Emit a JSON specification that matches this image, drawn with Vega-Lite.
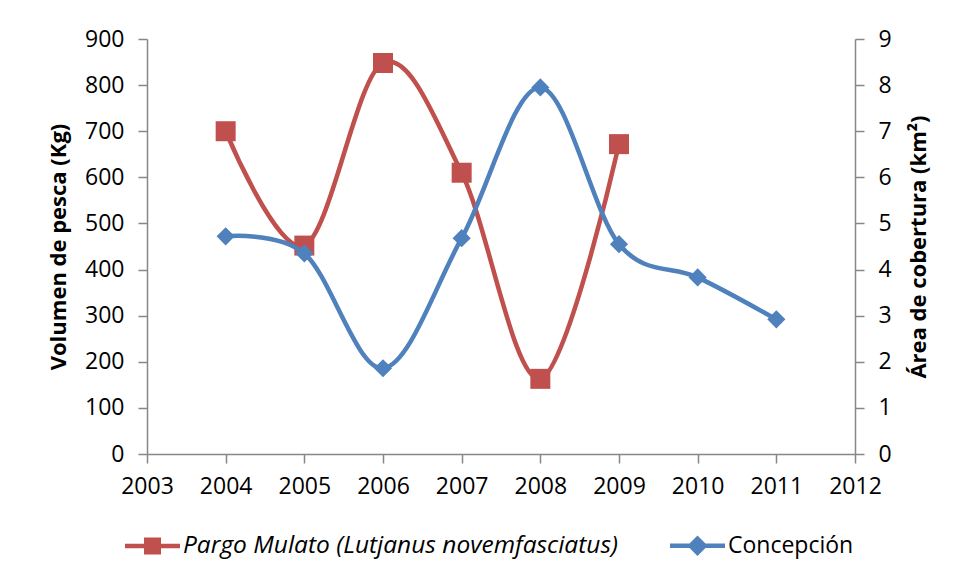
{
  "$schema": "https://vega.github.io/schema/vega-lite/v6.json",
  "width": 708,
  "height": 415,
  "autosize": {"type": "none"},
  "padding": {"left": 147, "top": 39, "right": 101, "bottom": 127},
  "background": "white",
  "config": {
    "view": {"stroke": null},
    "font": "Open Sans",
    "axis": {
      "grid": false,
      "domainColor": "#878787",
      "domainWidth": 1.5,
      "tickColor": "#878787",
      "tickWidth": 1.5,
      "tickSize": 9,
      "labelFont": "Open Sans",
      "labelFontSize": 23,
      "labelColor": "#000000",
      "titleFont": "Open Sans",
      "titleFontSize": 22,
      "titleFontWeight": "bold",
      "titleColor": "#000000"
    }
  },
  "data": {
    "values": [
      {"year": 2004, "serie": "Pargo Mulato (Lutjanus novemfasciatus)", "value": 700},
      {"year": 2005, "serie": "Pargo Mulato (Lutjanus novemfasciatus)", "value": 452},
      {"year": 2006, "serie": "Pargo Mulato (Lutjanus novemfasciatus)", "value": 848},
      {"year": 2007, "serie": "Pargo Mulato (Lutjanus novemfasciatus)", "value": 610},
      {"year": 2008, "serie": "Pargo Mulato (Lutjanus novemfasciatus)", "value": 163},
      {"year": 2009, "serie": "Pargo Mulato (Lutjanus novemfasciatus)", "value": 672},
      {"year": 2004, "serie": "Concepción", "value": 4.72},
      {"year": 2005, "serie": "Concepción", "value": 4.35},
      {"year": 2006, "serie": "Concepción", "value": 1.86},
      {"year": 2007, "serie": "Concepción", "value": 4.68},
      {"year": 2008, "serie": "Concepción", "value": 7.95},
      {"year": 2009, "serie": "Concepción", "value": 4.55},
      {"year": 2010, "serie": "Concepción", "value": 3.83},
      {"year": 2011, "serie": "Concepción", "value": 2.92}
    ]
  },
  "encoding": {
    "x": {
      "field": "year",
      "type": "quantitative",
      "scale": {"domain": [2003, 2012], "nice": false, "zero": false},
      "axis": {
        "title": null,
        "values": [2003, 2004, 2005, 2006, 2007, 2008, 2009, 2010, 2011, 2012],
        "format": "d",
        "labelPadding": 12,
        "labelFlush": false,
        "labelOverlap": false
      }
    },
    "color": {
      "field": "serie",
      "type": "nominal",
      "scale": {
        "domain": ["Pargo Mulato (Lutjanus novemfasciatus)", "Concepción"],
        "range": ["#C0504D", "#4F81BD"]
      },
      "legend": {
        "title": null,
        "orient": "none",
        "direction": "horizontal",
        "legendX": -22,
        "legendY": 479,
        "columns": 2,
        "columnPadding": 52,
        "symbolSize": 3025,
        "labelOffset": 3,
        "labelFont": "Open Sans",
        "labelFontSize": 23,
        "labelColor": "#000000",
        "labelLimit": 600,
        "encode": {
          "symbols": {
            "update": {
              "shape": {"signal": "datum.value === 'Concepción' ? 'M-1,-0.08H-0.29L0,-0.37L0.29,-0.08H1V0.08H0.29L0,0.37L-0.29,0.08H-1Z' : 'M-1,-0.08H-0.31V-0.31H0.31V-0.08H1V0.08H0.31V0.31H-0.31V0.08H-1Z'"},
              "fill": {"signal": "datum.value === 'Concepción' ? '#4F81BD' : '#C0504D'"},
              "stroke": {"value": "transparent"},
              "strokeWidth": {"value": 0},
              "size": {"value": 3025},
              "opacity": {"value": 1}
            }
          },
          "labels": {
            "update": {
              "fontStyle": {"signal": "datum.value === 'Concepción' ? 'normal' : 'italic'"},
              "fontSize": {"signal": "datum.value === 'Concepción' ? 23 : 24.5"}
            }
          }
        }
      }
    }
  },
  "layer": [
    {
      "transform": [{"filter": "datum.serie !== 'Concepción'"}],
      "encoding": {
        "y": {
          "field": "value",
          "type": "quantitative",
          "scale": {"domain": [0, 900], "nice": false},
          "axis": {
            "orient": "left",
            "title": "Volumen de pesca (Kg)",
            "values": [0, 100, 200, 300, 400, 500, 600, 700, 800, 900],
            "labelPadding": 14,
            "titlePadding": 14,
            "labelFlush": false
          }
        }
      },
      "layer": [
        {"mark": {"type": "line", "interpolate": "cardinal", "strokeWidth": 4.5}},
        {"mark": {"type": "point", "shape": "square", "filled": true, "size": 400, "opacity": 1}}
      ]
    },
    {
      "transform": [{"filter": "datum.serie === 'Concepción'"}],
      "encoding": {
        "y": {
          "field": "value",
          "type": "quantitative",
          "scale": {"domain": [0, 9], "nice": false},
          "axis": {
            "orient": "right",
            "title": "Área de cobertura (km²)",
            "titleAngle": 270,
            "titleX": 63,
            "titleY": 207.5,
            "titleAlign": "center",
            "titleBaseline": "middle",
            "values": [0, 1, 2, 3, 4, 5, 6, 7, 8, 9],
            "labelPadding": 14,
            "labelFlush": false
          }
        }
      },
      "layer": [
        {"mark": {"type": "line", "interpolate": "cardinal", "strokeWidth": 4.5}},
        {"mark": {"type": "point", "shape": "diamond", "filled": true, "size": 330, "opacity": 1}}
      ]
    }
  ],
  "resolve": {"scale": {"y": "independent"}}
}
